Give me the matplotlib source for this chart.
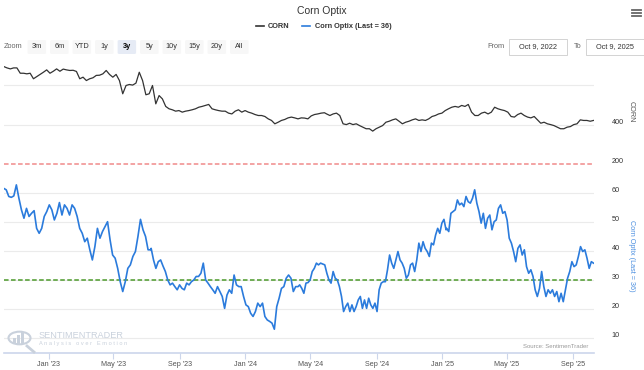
import matplotlib
matplotlib.use('Agg')
import matplotlib.pyplot as plt
import matplotlib.transforms as mtransforms
from matplotlib.patches import FancyBboxPatch, Circle, Rectangle
import numpy as np
import pandas as pd

plt.rcParams['font.family'] = ['Liberation Sans', 'DejaVu Sans']

# ---- data ----
# CORN price (cents), two stretches
corn_span_a = ('2022-10-09', '2024-05-27')
corn_a = [695, 688, 683, 688, 688, 661, 661, 658, 661, 633, 644, 655, 666, 678, 661, 671,
          683, 671, 682, 678, 675, 676, 670, 633, 641, 624, 633, 638, 650, 651, 658, 675,
          655, 641, 655, 624, 557, 599, 604, 601, 611, 666, 624, 552, 557, 599, 506, 548,
          531, 493, 481, 476, 469, 472, 464, 469, 472, 476, 481, 489, 493, 498, 503, 481,
          476, 472, 469, 469, 459, 455, 469, 476, 464, 472, 464, 459, 452, 447, 447, 442,
          430, 422, 405, 413, 422, 427, 435, 439, 435, 430, 435, 434, 430, 445, 452, 455,
          459, 461]
corn_span_b = ('2024-05-31', '2025-10-09')
corn_b = [455, 447, 455, 459, 447, 405, 401, 408, 401, 405, 396, 388, 380, 380, 368, 380,
          388, 396, 413, 418, 425, 430, 418, 405, 413, 418, 425, 430, 422, 425, 422, 430,
          442, 447, 455, 459, 472, 481, 489, 493, 489, 498, 493, 503, 464, 447, 447, 459,
          464, 455, 464, 489, 481, 476, 472, 464, 442, 439, 452, 459, 447, 439, 435, 442,
          425, 408, 413, 405, 401, 396, 388, 380, 380, 388, 391, 401, 405, 425, 422, 422,
          418, 422]

# Corn Optix, four stretches
optix_spans = [('2022-10-09', '2023-07-09'), ('2023-07-10', '2024-04-08'),
               ('2024-04-11', '2025-01-08'), ('2025-01-09', '2025-10-09')]
optix_a = [61.7, 61.2, 58.9, 58.6, 59.1, 62.9, 58.3, 54.3, 51.4, 54.8, 52.0, 53.1, 54.0,
           47.9, 46.2, 47.9, 52.0, 53.7, 56.0, 54.3, 50.8, 53.1, 56.8, 52.5, 56.0, 54.8,
           52.5, 56.0, 54.8, 52.0, 47.9, 46.2, 43.3, 44.5, 40.5, 37.0, 41.6, 47.9, 44.5,
           46.8, 48.5, 50.2, 43.9, 38.7, 37.6, 34.1, 29.5, 26.1, 29.5, 34.1, 35.3, 38.2,
           39.9, 45.1, 51.0, 47.4, 45.1, 40.5, 40.5]
optix_b = [41.0, 37.0, 34.1, 36.4, 37.0, 34.9, 33.0, 30.1, 28.4, 29.0, 27.8, 26.7, 28.4,
           27.2, 26.7, 29.0, 28.4, 29.5, 30.1, 31.3, 31.3, 32.4, 35.9, 30.1, 29.0, 27.8,
           26.7, 25.5, 27.8, 26.1, 24.4, 20.3, 24.9, 26.7, 25.5, 31.8, 28.4, 27.8, 27.8,
           24.4, 21.5, 20.9, 18.6, 17.5, 19.2, 22.1, 20.9, 22.1, 17.5, 16.3, 15.8, 15.2,
           13.1, 20.9, 23.8, 27.2, 27.8, 30.7, 31.8, 30.7, 26.1, 27.8, 27.8]
optix_c = [28.4, 27.2, 25.5, 29.0, 29.2, 30.1, 33.0, 34.1, 35.9, 35.3, 35.9, 35.6, 35.3,
           32.4, 30.1, 29.0, 33.0, 30.7, 30.1, 27.8, 24.4, 19.2, 20.9, 22.1, 19.2, 21.5,
           19.2, 20.9, 23.2, 24.4, 20.3, 23.2, 20.3, 23.8, 21.5, 20.3, 22.1, 19.2, 26.7,
           29.0, 29.5, 29.5, 33.6, 38.7, 35.9, 34.1, 37.0, 39.9, 37.0, 35.9, 34.1, 30.7,
           31.8, 35.3, 35.9, 33.0, 37.0, 42.8, 39.9, 43.3, 41.0, 39.9, 38.2, 42.8, 42.2,
           45.6, 47.9, 46.2, 49.7, 51.0, 47.4]
optix_d = [47.9, 46.8, 53.1, 53.7, 54.3, 57.7, 56.0, 56.6, 55.4, 58.9, 57.1, 56.6, 58.3,
           61.2, 56.6, 53.7, 49.7, 53.1, 47.9, 51.4, 52.5, 47.4, 50.2, 50.8, 54.8, 56.0,
           53.1, 53.7, 50.8, 44.5, 42.8, 39.9, 36.4, 41.0, 42.2, 38.7, 40.5, 34.7, 32.4,
           33.6, 31.3, 26.7, 24.4, 27.2, 33.0, 27.8, 24.4, 26.7, 25.5, 26.7, 24.4, 26.1,
           22.6, 25.5, 22.6, 26.7, 30.7, 33.0, 36.4, 34.7, 35.3, 38.2, 41.6, 39.9, 40.5,
           37.6, 34.1, 36.4, 35.9]
optix_parts = [optix_a, optix_b, optix_c, optix_d]

optix_low, optix_high = 30, 70
x_start, x_end = '2022-10-09', '2025-10-09'
tick_dates = ['2023-01-01', '2023-05-01', '2023-09-01', '2024-01-01', '2024-05-01',
              '2024-09-01', '2025-01-01', '2025-05-01', '2025-09-01']
tick_labels = ["Jan '23", "May '23", "Sep '23", "Jan '24", "May '24",
               "Sep '24", "Jan '25", "May '25", "Sep '25"]
zoom_buttons = ['3m', '6m', 'YTD', '1y', '3y', '5y', '10y', '15y', '20y', 'All']

# ---- build series ----
corn_dates = np.concatenate([pd.date_range(*corn_span_a, periods=len(corn_a)),
                             pd.date_range(*corn_span_b, periods=len(corn_b))])
corn_vals = np.array(corn_a + corn_b)
optix_dates = np.concatenate([pd.date_range(s, e, periods=len(v))
                              for (s, e), v in zip(optix_spans, optix_parts)])
optix_vals = np.concatenate(optix_parts)

W, H = 644, 370
fig = plt.figure(figsize=(W / 100, H / 100), dpi=100)


def fx(x):
    return x / W


def fy(y):
    return 1 - y / H


left, right = 3.7, 593.5
ax_top = fig.add_axes([fx(left), fy(164.3), (right - left) / W, 104.3 / H])
ax_bot = fig.add_axes([fx(left), fy(352.7), (right - left) / W, 188.4 / H])

grid_c = '#ebebeb'
axis_c = '#ccd6eb'
lbl_c = '#555555'

# top panel: CORN
ax_top.plot(corn_dates, corn_vals, color='#333333', lw=0.9)
ax_top.set_ylim(200, 728)
for g in [400, 600]:
    ax_top.axhline(g, color=grid_c, lw=0.8, zorder=0)
ax_top.set_yticks([200, 400])
ax_top.set_xticks([])

# bottom panel: Optix
ax_bot.plot(optix_dates, optix_vals, color='#2b7bdc', lw=1.2, zorder=3)
ax_bot.set_ylim(5, 70)
for g in [10, 20, 30, 40, 50, 60]:
    ax_bot.axhline(g, color=grid_c, lw=0.8, zorder=0)
ax_bot.axhline(optix_low, color='#4c9a2a', lw=1.1, ls=(0, (3, 1.6)), zorder=2)
ax_bot.axhline(optix_high, color='#f08a8a', lw=1.1, ls=(0, (3, 1.6)), zorder=2, clip_on=False)
ax_bot.set_yticks([10, 20, 30, 40, 50, 60])
ax_bot.set_xticks(pd.to_datetime(tick_dates))
ax_bot.set_xticklabels(tick_labels)

for ax in (ax_top, ax_bot):
    ax.set_xlim(pd.Timestamp(x_start), pd.Timestamp(x_end))
    for s in ax.spines.values():
        s.set_visible(False)
    ax.yaxis.tick_right()
    ax.tick_params(axis='y', length=0, pad=13, labelsize=5.2, labelcolor='#333333')
    shift = mtransforms.ScaledTranslation(0, 3.5 / 100, fig.dpi_scale_trans)
    for t in ax.get_yticklabels():
        t.set_transform(t.get_transform() + shift)
    ax.set_facecolor('none')

ax_bot.spines['bottom'].set_visible(True)
ax_bot.spines['bottom'].set_color(axis_c)
ax_bot.spines['bottom'].set_linewidth(1.2)
ax_bot.tick_params(axis='x', length=4, width=0.8, color=axis_c, pad=2,
                   labelsize=5.2, labelcolor=lbl_c)
ax_top.tick_params(axis='x', length=0)

# axis titles
fig.text(fx(631), fy(112), 'CORN', rotation=270, ha='center', va='center',
         fontsize=5.2, color='#555555')
fig.text(fx(631), fy(256), 'Corn Optix (Last = 36)', rotation=270, ha='center',
         va='center', fontsize=5.2, color='#4a8ee0')

# header
fig.text(fx(322), fy(11), 'Corn Optix', ha='center', va='center', fontsize=7.5,
         color='#333333')
fig.add_artist(plt.Line2D([fx(256), fx(264)], [fy(26), fy(26)], color='#333333', lw=1.2))
fig.text(fx(268), fy(26), 'CORN', ha='left', va='center', fontsize=5.3,
         fontweight='bold', color='#333333')
fig.add_artist(plt.Line2D([fx(302), fx(310)], [fy(26), fy(26)], color='#2b7bdc', lw=1.2))
fig.text(fx(315), fy(26), 'Corn Optix (Last = 36)', ha='left', va='center', fontsize=5.3,
         fontweight='bold', color='#333333')

# hamburger menu
for dy in (-3, 0, 3):
    fig.add_artist(plt.Line2D([fx(632), fx(641)], [fy(13 + dy), fy(13 + dy)],
                              color='#666666', lw=1.3))

# range selector
fig.text(fx(4), fy(47), 'Zoom', ha='left', va='center', fontsize=5.3, color='#666666')
for i, b in enumerate(zoom_buttons):
    x0 = 27.6 + i * 22.5
    sel = b == '3y'
    fig.add_artist(FancyBboxPatch((fx(x0), fy(54)), 18.5 / W, 14 / H,
                                  boxstyle='round,pad=0,rounding_size=0.003',
                                  transform=fig.transFigure,
                                  fc='#e6ebf5' if sel else '#f7f7f7', ec='none'))
    fig.text(fx(x0 + 9.25), fy(47), b, ha='center', va='center', fontsize=5.3,
             color='#000000' if sel else '#333333', fontweight='bold' if sel else 'normal')

fig.text(fx(504), fy(47), 'From', ha='right', va='center', fontsize=5.3, color='#666666')
fig.text(fx(581.5), fy(47), 'To', ha='right', va='center', fontsize=5.3, color='#666666')
for x0, x1, txt in [(509, 567, 'Oct 9, 2022'), (586, 643.5, 'Oct 9, 2025')]:
    fig.add_artist(Rectangle((fx(x0), fy(54.5)), (x1 - x0) / W, 15 / H,
                             transform=fig.transFigure, fc='white', ec='#cccccc', lw=0.6))
    fig.text(fx((x0 + x1) / 2), fy(47), txt, ha='center', va='center', fontsize=5.3,
             color='#333333')

# watermark logo
wm = '#c9d1dc'
fig.add_artist(Circle((fx(19.5), fy(338)), 11 / W, transform=fig.transFigure,
                      fill=False, ec=wm, lw=1.5))
for i, h in enumerate([6, 9, 12]):
    fig.add_artist(Rectangle((fx(13 + i * 4), fy(344)), 3 / W, h / H,
                             transform=fig.transFigure, fc=wm, ec='none'))
fig.add_artist(plt.Line2D([fx(27), fx(34)], [fy(346), fy(352)], color=wm, lw=2))
fig.text(fx(39), fy(335), 'SENTIMENTRADER', ha='left', va='center', fontsize=6.6,
         color=wm)
fig.text(fx(39), fy(343.5), 'A n a l y s i s   o v e r   E m o t i o n', ha='left',
         va='center', fontsize=4.1, color=wm)

fig.text(fx(588), fy(346), 'Source: SentimenTrader', ha='right', va='center',
         fontsize=4.3, color='#999999')

fig.savefig('out.png', dpi=100, facecolor='white')
